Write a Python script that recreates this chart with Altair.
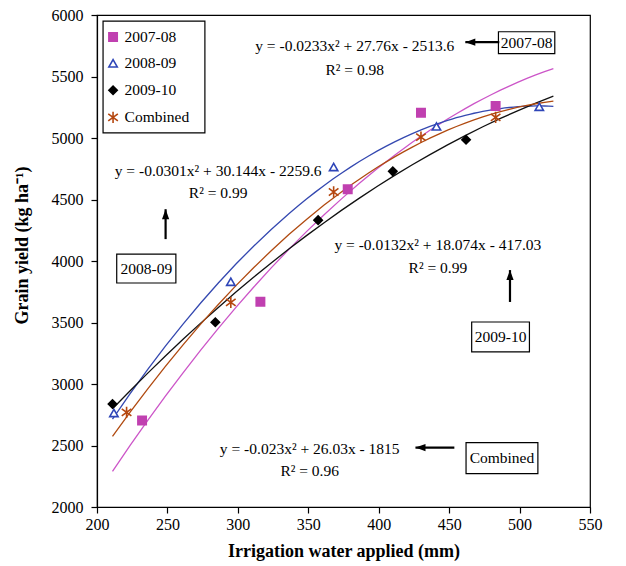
import altair as alt
import pandas as pd

# ---------------- data ----------------
series_names = ["2007-08", "2008-09", "2009-10", "Combined"]

water_0708 = [232, 316, 378, 430, 483]
yield_0708 = [2704, 3669, 4583, 5205, 5260]

water_0809 = [212, 295, 368, 441, 514]
yield_0809 = [2764, 3831, 4764, 5094, 5254]

water_0910 = [211, 284, 357, 410, 462]
yield_0910 = [2837, 3502, 4332, 4729, 4986]

water_comb = [221, 295, 368, 430, 483]
yield_comb = [2769, 3664, 4561, 5007, 5168]

x_ticks = [200, 250, 300, 350, 400, 450, 500, 550]
y_ticks = [2000, 2500, 3000, 3500, 4000, 4500, 5000, 5500, 6000]

equation_text = [
    "y = -0.0233x² + 27.76x - 2513.6",
    "y = -0.0301x² + 30.144x - 2259.6",
    "y = -0.0132x² + 18.074x - 417.03",
    "y = -0.023x² + 26.03x - 1815",
]
r2_text = ["R² = 0.98", "R² = 0.99", "R² = 0.99", "R² = 0.96"]

# ---------------- tables ----------------
rows = []
for name, xs, ys in zip(series_names,
                        [water_0708, water_0809, water_0910, water_comb],
                        [yield_0708, yield_0809, yield_0910, yield_comb]):
    for a, b in zip(xs, ys):
        rows.append({"series": name, "water": a, "grain": b})
points_df = pd.DataFrame(rows)

# annotation layout (data coordinates)
eq_x = [383, 286, 442, 351]
eq_y = [5745, 4729, 4129, 2474]
r2_y = [5556, 4551, 3943, 2296]
text_rows = []
for t, r, xx, y1, y2 in zip(equation_text, r2_text, eq_x, eq_y, r2_y):
    text_rows.append({"label": t, "water": xx, "grain": y1})
    text_rows.append({"label": r, "water": xx, "grain": y2})
box_cx = [505, 235, 486.5, 487.5]
box_cy = [5775, 3938, 3383, 2397]
for name, cx, cy in zip(series_names, box_cx, box_cy):
    text_rows.append({"label": name, "water": cx, "grain": cy})
text_df = pd.DataFrame(text_rows)

# boxes: 4 label boxes + the legend frame
box_df = pd.DataFrame({
    "water": [485, 214, 466, 462, 204.3],
    "water2": [525, 256, 507, 513, 276.6],
    "grain": [5864, 4056, 3504, 2523, 5951],
    "grain2": [5686, 3821, 3261, 2272, 5041],
})

arrow_df = pd.DataFrame({
    "water": [485.6, 248.7, 493.2, 453.7],
    "grain": [5779, 4178, 3667, 2483],
    "water2": [461.5, 248.7, 493.2, 426.1],
    "grain2": [5779, 4421, 3926, 2483],
    "angle": [270, 0, 0, 270],
})

legend_df = pd.DataFrame({
    "series": series_names,
    "water": [211.4] * 4,
    "water_text": [219.6] * 4,
    "grain": [5821, 5607, 5388, 5168],
})

# ---------------- styling ----------------
marker_shapes = ["square", "triangle-up", "diamond",
                 "M0,-1.35L0,1.35M-1.15,-0.85L1.15,0.85M-1.15,0.85L1.15,-0.85"]
marker_stroke = ["#C040B0", "#2E45B8", "#000000", "#B5470F"]
marker_fill = ["#C040B0", "#FFFFFF", "#000000", "#FFFFFF"]
line_colors = ["#CC55C8", "#3448B0", "#111111", "#B04A10"]
serif = "Liberation Serif"

xscale = alt.Scale(domain=[200, 550], nice=False, zero=False)
yscale = alt.Scale(domain=[2000, 6000], nice=False, zero=False)
XT = "Irrigation water applied (mm)"
YT = "Grain yield (kg ha⁻¹)"

curves = alt.Chart(points_df).transform_regression(
    "water", "grain", groupby=["series"], method="poly", order=2, extent=[211, 524]
).mark_line(strokeWidth=1.3, clip=True).encode(
    x=alt.X("water:Q", scale=xscale,
            axis=alt.Axis(values=x_ticks, title=XT, labelFlush=False,
                          labelPadding=3, titlePadding=10)),
    y=alt.Y("grain:Q", scale=yscale,
            axis=alt.Axis(values=y_ticks, title=YT, format="d", labelFlush=False,
                          labelPadding=8, titleX=-66, titleY=230)),
    color=alt.Color("series:N", scale=alt.Scale(domain=series_names, range=line_colors),
                    legend=None),
)

def marker_enc(ch):
    return ch.encode(
        shape=alt.Shape("series:N", scale=alt.Scale(domain=series_names, range=marker_shapes), legend=None),
        stroke=alt.Stroke("series:N", scale=alt.Scale(domain=series_names, range=marker_stroke), legend=None),
        fill=alt.Fill("series:N", scale=alt.Scale(domain=series_names, range=marker_fill), legend=None),
    )

pts = marker_enc(alt.Chart(points_df).mark_point(size=70, strokeWidth=1.6, opacity=1).encode(
    x=alt.X("water:Q", scale=xscale, title=XT),
    y=alt.Y("grain:Q", scale=yscale, title=YT),
))

boxes = alt.Chart(box_df).mark_rect(fill="white", stroke="black", strokeWidth=1.2).encode(
    x="water:Q", x2="water2:Q", y="grain:Q", y2="grain2:Q")

legend_pts = marker_enc(alt.Chart(legend_df).mark_point(size=70, strokeWidth=1.6, opacity=1).encode(
    x="water:Q", y="grain:Q"))

legend_txt = alt.Chart(legend_df).mark_text(font=serif, fontSize=15.5, color="black",
                                            align="left", baseline="middle").encode(
    x="water_text:Q", y="grain:Q", text="series:N")

texts = alt.Chart(text_df).mark_text(font=serif, fontSize=15.5, color="black",
                                     align="center", baseline="middle").encode(
    x="water:Q", y="grain:Q", text="label:N")

arrow_lines = alt.Chart(arrow_df).mark_rule(color="black", strokeWidth=2.2).encode(
    x="water:Q", y="grain:Q", x2="water2:Q", y2="grain2:Q")

arrow_heads = alt.Chart(arrow_df).mark_point(
    shape="M0,0L0.9,2.5L-0.9,2.5Z", filled=True, color="black", size=64, opacity=1
).encode(x="water2:Q", y="grain2:Q", angle=alt.Angle("angle:Q", scale=None))

chart = alt.layer(curves, pts, boxes, legend_pts, legend_txt, arrow_lines, arrow_heads, texts).properties(
    width=493, height=492,
    autosize=alt.AutoSizeParams(type="none"),
    padding={"left": 89, "top": 7, "right": 20, "bottom": 58},
).configure_axis(
    domainColor="black", domainWidth=1.2, tickColor="black", tickWidth=1.2, tickSize=6,
    labelFont=serif, labelFontSize=16, labelColor="black",
    titleFont=serif, titleFontSize=18, titleFontWeight="bold", titleColor="black", grid=False,
).configure_view(stroke="black", strokeWidth=1.2)

chart.save("out.html", embed_options={"renderer": "svg", "actions": False})
